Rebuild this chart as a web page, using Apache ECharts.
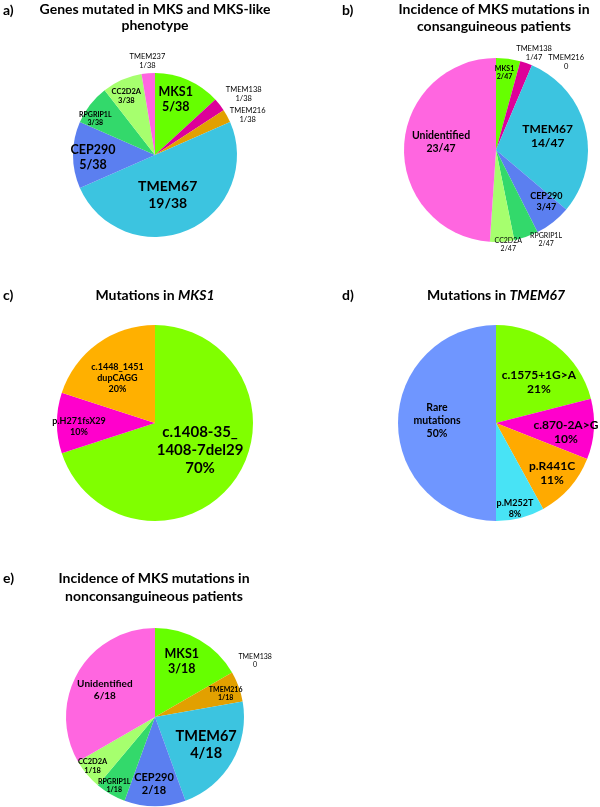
<!DOCTYPE html>
<html>
<head>
<meta charset="utf-8">
<script src="https://cdn.jsdelivr.net/npm/echarts@6/dist/echarts.min.js"></script>
<style>
html,body{margin:0;padding:0;background:#fff;}
#c{width:600px;height:807px;}
</style>
</head>
<body>
<div id="c"></div>
<script>
// ---------- DATA ----------
const catA = ['MKS1','TMEM138','TMEM216','TMEM67','CEP290','RPGRIP1L','CC2D2A','TMEM237'];
const valA = [5,1,1,19,5,3,3,1];
const catB = ['MKS1','TMEM138','TMEM216','TMEM67','CEP290','RPGRIP1L','CC2D2A','Unidentified'];
const valB = [2,1,0,14,3,2,2,23];
const catC = ['c.1408-35_\n1408-7del29','p.H271fsX29','c.1448_1451\ndupCAGG'];
const valC = [70,10,20];
const catD = ['c.1575+1G>A','c.870-2A>G','p.R441C','p.M252T','Rare\nmutations'];
const valD = [21,10,11,8,50];
const catE = ['MKS1','TMEM138','TMEM216','TMEM67','CEP290','RPGRIP1L','CC2D2A','Unidentified'];
const valE = [3,0,1,4,2,1,1,6];

// ---------- STYLE ----------
const FONT = 'Lato, "Open Sans", sans-serif';
const colA = ['#66ff00','#dd0099','#e2a000','#3cc4e0','#5b7ff0','#33d96b','#a6ff6e','#ff66e0'];
const colB = ['#66ff00','#dd0099','#e2a000','#3cc4e0','#5b7ff0','#33d96b','#a6ff6e','#ff66e0'];
const colC = ['#80ff00','#ff00cc','#ffb000'];
const colD = ['#80ff00','#ff00cc','#ffaa00','#48e3f5','#6f96ff'];
const colE = ['#66ff00','#dd0099','#e2a000','#3cc4e0','#5b7ff0','#33d96b','#a6ff6e','#ff66e0'];

const fsA = [12.5,7.5,7.5,14,12.5,7,7.5,7.5];
const fsB = [7,7.5,7.5,12,9,7,7,10.5];
const fsC = [15,9,9];
const fsD = [12,12,12,9,10.5];
const fsE = [12.5,7,7,14.5,11,7,7.5,10];

const wA = ['bold','normal','normal','bold','bold','bold','bold','normal'];
const wB = ['bold','normal','normal','bold','bold','normal','normal','bold'];
const wC = ['bold','bold','bold'];
const wD = ['bold','bold','bold','bold','bold'];
const wE = ['bold','normal','bold','bold','bold','bold','bold','bold'];

// label offsets from default inside position
const offA = [[3,-15],[54,-34],[54,-19],[-5,0],[-18,2],[-25,-9],[-11,-19],[-4,-50]];
const offB = [[2,-29],[22,-51],[51,-43],[4,-3],[20,13],[34,43],[9,46],[-6,-6]];
const offC = [[3,-3],[-24,4],[-7,-3]];
const offD = [[11,0],[18,6],[17,16],[6,35],[-7,-2]];
const offE = [[3,-14],[59,-33],[26,-7],[10,4],[-1,19],[-17,28],[-26,19],[-9,-3]];

function sum(a){return a.reduce((s,v)=>s+v,0);}

function makePie(cats, vals, cols, fs, ws, offs, center, radius, mode){
  const total = sum(vals);
  return {
    type:'pie',
    center: center,
    radius: radius,
    startAngle: 90,
    clockwise: true,
    avoidLabelOverlap: false,
    animation: false,
    silent: true,
    minShowLabelAngle: 0,
    itemStyle: {borderWidth: 0},
    labelLine: {show:false},
    emphasis: {disabled: true},
    label: {
      show: true,
      position: 'inside',
      color: '#000',
      fontFamily: FONT,
      align: 'center',
      formatter: function(p){
        if (mode === 'pct') return p.name + '\n' + p.value + '%';
        if (p.value === 0) return p.name + '\n0';
        return p.name + '\n' + p.value + '/' + total;
      }
    },
    labelLayout: function(p){
      const o = offs[p.dataIndex];
      return {dx:o[0], dy:o[1], hideOverlap:false, moveOverlap:null};
    },
    data: cats.map((c,i)=>({
      name: c,
      value: vals[i],
      itemStyle: {color: cols[i]},
      label: {fontSize: fs[i], lineHeight: Math.round(fs[i]*1.2), fontWeight: ws[i]}
    }))
  };
}

const titleStyle = {fontFamily: FONT, fontWeight:'bold', fill:'#000'};
function txt(x,y,text,size,align,lh,rich){
  return {
    type:'text', x:x, y:y, silent:true,
    style: Object.assign({}, titleStyle, {
      text:text, fontSize:size, textAlign:align, textVerticalAlign:'middle',
      lineHeight: lh || size*1.15, rich: rich
    })
  };
}
const italRich = {
  n:{fontFamily:FONT, fontWeight:'bold', fontSize:14, fill:'#000'},
  i:{fontFamily:FONT, fontWeight:'bold', fontStyle:'italic', fontSize:14, fill:'#000'}
};

const chart = echarts.init(document.getElementById('c'), null, {renderer:'canvas'});
chart.setOption({
  backgroundColor:'#fff',
  animation:false,
  graphic: [
    txt(3,10,'a)',14,'left'),
    txt(155,17,'Genes mutated in MKS and MKS-like\nphenotype',14,'center',16),
    txt(342,10,'b)',14,'left'),
    txt(494,18,'Incidence of MKS mutations in\nconsanguineous patients',14,'center',17),
    txt(3,295,'c)',14,'left'),
    txt(155,295,'{n|Mutations in }{i|MKS1}',14,'center',16,italRich),
    txt(342,295,'d)',14,'left'),
    txt(496,295,'{n|Mutations in }{i|TMEM67}',14,'center',16,italRich),
    txt(3,578,'e)',14,'left'),
    txt(154,587,'Incidence of MKS mutations in\nnonconsanguineous patients',14,'center',18)
  ],
  series: [
    makePie(catA, valA, colA, fsA, wA, offA, [155,155], 82, 'frac'),
    makePie(catB, valB, colB, fsB, wB, offB, [496,150], 92, 'frac'),
    makePie(catC, valC, colC, fsC, wC, offC, [155,423], 98, 'pct'),
    makePie(catD, valD, colD, fsD, wD, offD, [496,423], 98, 'pct'),
    makePie(catE, valE, colE, fsE, wE, offE, [155,717], 89, 'frac')
  ]
});
</script>
</body>
</html>
